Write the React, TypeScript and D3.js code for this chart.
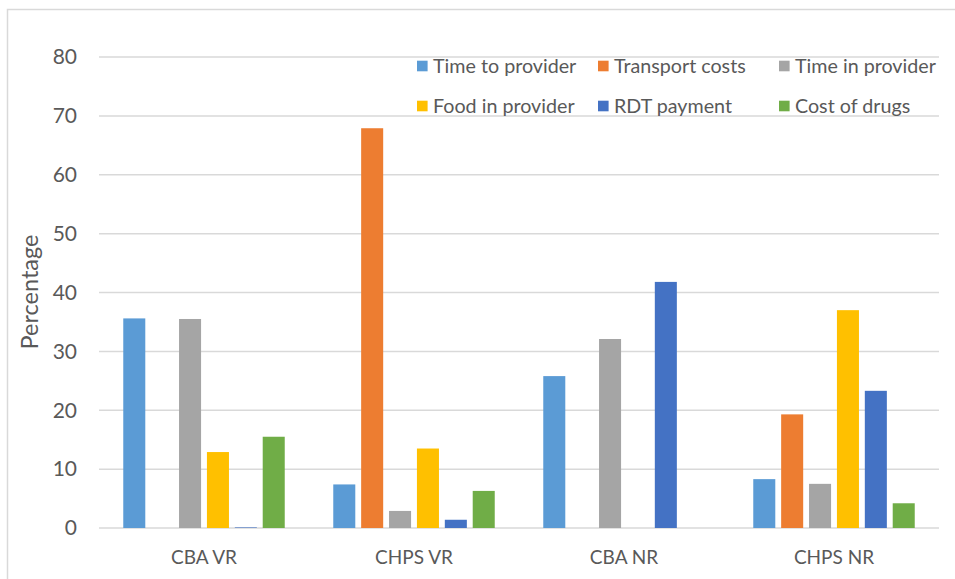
import React, { useEffect, useRef } from 'react';
import * as d3 from 'd3';

const categories = ['CBA VR', 'CHPS VR', 'CBA NR', 'CHPS NR'];
const seriesNames = ['Time to provider', 'Transport costs', 'Time in provider', 'Food in provider', 'RDT payment', 'Cost of drugs'];
const seriesColors = ['#5B9BD5', '#ED7D31', '#A5A5A5', '#FFC000', '#4472C4', '#70AD47'];

// one array per series, values in category order
const timeToProvider = [35.6, 7.4, 25.8, 8.3];
const transportCosts = [0, 67.9, 0, 19.3];
const timeInProvider = [35.5, 2.9, 32.1, 7.5];
const foodInProvider = [12.9, 13.5, 0, 37.0];
const rdtPayment = [0.1, 1.4, 41.8, 23.3];
const costOfDrugs = [15.5, 6.3, 0, 4.2];

const yTicks = [0, 10, 20, 30, 40, 50, 60, 70, 80];

const FONT = 'Lato, "Noto Sans", sans-serif';
const TEXT = '#595959';

function App() {
    const ref = useRef<SVGSVGElement>(null);

    useEffect(() => {
        const svg = d3.select(ref.current);
        svg.selectAll('*').remove();

        const series = [timeToProvider, transportCosts, timeInProvider, foodInProvider, rdtPayment, costOfDrugs];

        // chart border (runs off the right / bottom edge like the source)
        svg.append('rect')
            .attr('x', 7.5).attr('y', 9.5)
            .attr('width', 1000).attr('height', 700)
            .attr('fill', 'white')
            .attr('stroke', '#D9D9D9')
            .attr('stroke-width', 1.5);

        const x0 = d3.scaleBand().domain(categories).range([99, 939]);
        const x1 = d3.scaleBand()
            .domain(seriesNames)
            .range([0, x0.bandwidth()])
            .paddingInner(0.21)
            .paddingOuter(0.87);
        const y = d3.scaleLinear().domain([0, 80]).range([528, 57]);

        // gridlines
        svg.append('g')
            .selectAll('line')
            .data(yTicks)
            .enter()
            .append('line')
            .attr('x1', 99).attr('x2', 939)
            .attr('y1', d => y(d)).attr('y2', d => y(d))
            .attr('stroke', '#D9D9D9')
            .attr('stroke-width', 1.5);

        // y tick labels
        svg.append('g')
            .selectAll('text')
            .data(yTicks)
            .enter()
            .append('text')
            .attr('x', 77)
            .attr('y', d => y(d))
            .attr('dy', '0.35em')
            .attr('text-anchor', 'end')
            .attr('font-family', FONT)
            .attr('font-size', 21)
            .attr('fill', TEXT)
            .text(d => d);

        // bars
        seriesNames.forEach((name, i) => {
            svg.append('g')
                .selectAll('rect')
                .data(series[i])
                .enter()
                .append('rect')
                .attr('x', (d, j) => (x0(categories[j]) as number) + (x1(name) as number))
                .attr('y', d => y(d))
                .attr('width', x1.bandwidth())
                .attr('height', d => y(0) - y(d))
                .attr('fill', seriesColors[i]);
        });

        // category labels
        svg.append('g')
            .selectAll('text')
            .data(categories)
            .enter()
            .append('text')
            .attr('x', d => (x0(d) as number) + x0.bandwidth() / 2)
            .attr('y', 564)
            .attr('text-anchor', 'middle')
            .attr('font-family', FONT)
            .attr('font-size', 19)
            .attr('fill', TEXT)
            .text(d => d);

        // y axis title
        svg.append('text')
            .attr('transform', 'translate(38, 292) rotate(-90)')
            .attr('text-anchor', 'middle')
            .attr('font-family', FONT)
            .attr('font-size', 23.5)
            .attr('fill', TEXT)
            .text('Percentage');

        // legend, 3 columns x 2 rows
        const legend = svg.append('g')
            .selectAll('g')
            .data(seriesNames)
            .enter()
            .append('g')
            .attr('transform', (d, i) => `translate(${417 + (i % 3) * 181}, ${66 + Math.floor(i / 3) * 40})`);
        legend.append('rect')
            .attr('x', 0).attr('y', -5.3)
            .attr('width', 10.6).attr('height', 10.6)
            .attr('fill', (d, i) => seriesColors[i]);
        legend.append('text')
            .attr('x', 16)
            .attr('dy', '0.35em')
            .attr('font-family', FONT)
            .attr('font-size', 19.7)
            .attr('fill', TEXT)
            .text(d => d);
    }, []);

    return <svg ref={ref} width={955} height={579} style={{ position: 'absolute', left: 0, top: 0 }}></svg>;
}

export default App;
